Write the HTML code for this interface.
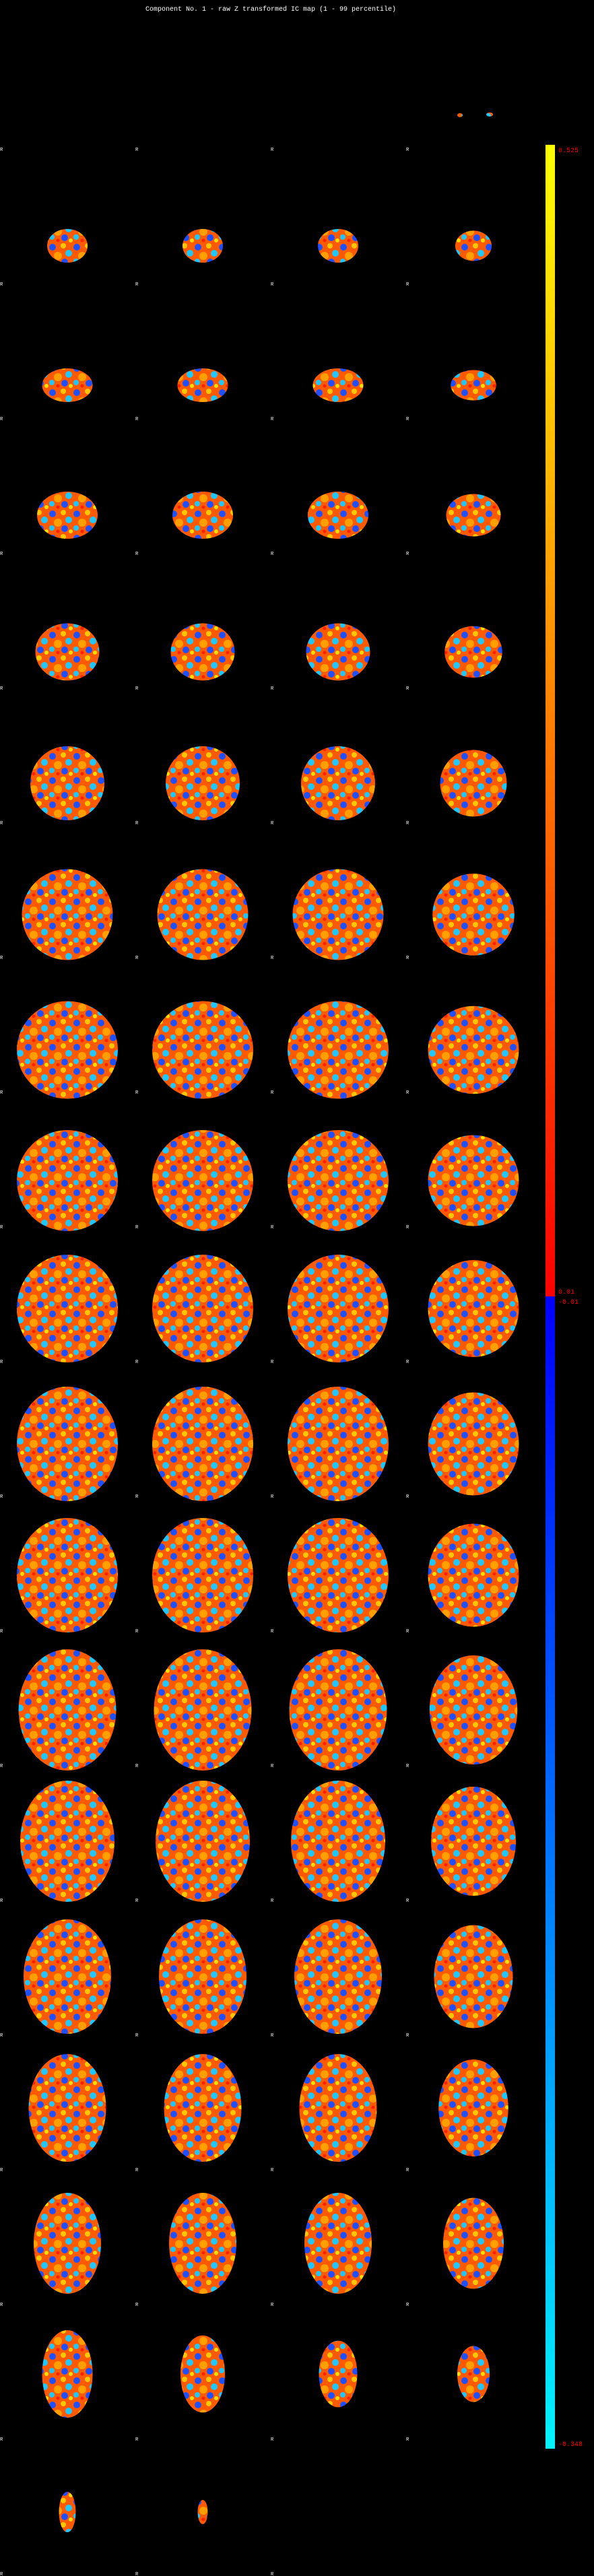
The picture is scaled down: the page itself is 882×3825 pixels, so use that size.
<!DOCTYPE html>
<html>
<head>
<meta charset="utf-8">
<style>
  html,body{margin:0;padding:0;background:#000;}
  body{width:882px;height:3825px;overflow:hidden;position:relative;}
  svg{position:absolute;left:0;top:0;}
</style>
</head>
<body>
<svg id="fig" width="882" height="3825" viewBox="0 0 882 3825" xmlns="http://www.w3.org/2000/svg">
  <defs>
    <pattern id="noise" width="36" height="36" patternUnits="userSpaceOnUse">
      <rect width="36" height="36" fill="#ff5a00"/>
      <circle cx="6" cy="7" r="5" fill="#1e50ff"/>
      <circle cx="22" cy="5" r="4" fill="#ffc800"/>
      <circle cx="30" cy="16" r="5" fill="#1ec8ff"/>
      <circle cx="14" cy="20" r="6" fill="#ffa000"/>
      <circle cx="5" cy="28" r="4" fill="#1ec8ff"/>
      <circle cx="24" cy="29" r="5" fill="#1e50ff"/>
      <circle cx="14" cy="33" r="2.5" fill="#ff2000"/>
      <circle cx="33" cy="33" r="3" fill="#ffe000"/>
    </pattern>
    <linearGradient id="posGrad" x1="0" y1="0" x2="0" y2="1">
      <stop offset="0" stop-color="#ffff00"/>
      <stop offset="0.45" stop-color="#ff8c00"/>
      <stop offset="1" stop-color="#ff0000"/>
    </linearGradient>
    <linearGradient id="negGrad" x1="0" y1="0" x2="0" y2="1">
      <stop offset="0" stop-color="#0000ff"/>
      <stop offset="1" stop-color="#00f4ff"/>
    </linearGradient>
  </defs>
  <text x="402" y="16" fill="#fff" font-family="Liberation Mono, monospace" font-size="10" text-anchor="middle">Component No. 1 - raw Z transformed IC map (1 - 99 percentile)</text>
  <g id="cells"></g>
  <g>
    <rect x="810" y="215" width="14" height="1710" fill="url(#posGrad)"/>
    <rect x="810" y="1925" width="14" height="1711" fill="url(#negGrad)"/>
    <text x="829" y="226" fill="#f00" font-family="Liberation Mono, monospace" font-size="10">0.525</text>
    <text x="829" y="1921" fill="#f00" font-family="Liberation Mono, monospace" font-size="10">0.01</text>
    <text x="829" y="1936" fill="#f00" font-family="Liberation Mono, monospace" font-size="10">-0.01</text>
    <text x="829" y="3632" fill="#f00" font-family="Liberation Mono, monospace" font-size="10">-0.348</text>
  </g>
</svg>
<script>
// per-row brain slice extents (px), rows 0..18
const rowWidths  = [0, 60, 75, 90, 95, 110, 135, 150, 150, 150, 150, 150, 145, 140, 130, 115, 100, 75, 25];
const rowHeights = [0, 50, 50, 70, 85, 110, 135, 145, 150, 160, 170, 170, 180, 180, 170, 160, 150, 130, 60];
const rowCenters = [0, 144, 151, 144, 147, 142, 137, 138, 132, 122, 123, 118, 118, 113, 114, 109, 110, 104, 109];
const colScale   = [1.0, 1.0, 1.0, 0.9];
const cellsPerRow = [4,4,4,4,4,4,4,4,4,4,4,4,4,4,4,4,4,4,3];
const slicesInLastRow = 2;

const NS = 'http://www.w3.org/2000/svg';
const g = document.getElementById('cells');
const colX = c => c * 201;
const rowTop = r => 21 + r * 200;

for (let r = 0; r < rowWidths.length; r++) {
  for (let c = 0; c < cellsPerRow[r]; c++) {
    const x0 = colX(c), y0 = rowTop(r);
    const t = document.createElementNS(NS, 'text');
    
    
    t.setAttribute('x', x0);
    t.setAttribute('y', y0 + 203);
    t.setAttribute('fill', '#fff');
    t.setAttribute('font-family', 'Liberation Mono, monospace');
    t.setAttribute('font-size', '7');
    t.textContent = 'R';
    g.appendChild(t);

    let s = (r === 17) ? (1 - 0.12 * c) : colScale[c];
    if (r === 18) s = c === 0 ? 1 : 0.6;
    if (r === 18 && c >= slicesInLastRow) continue;
    let w = rowWidths[r] * s, h = rowHeights[r] * s;
    if (r === 0) {
      if (c !== 3) continue;
      [[683, 171, 4], [727, 170, 5]].forEach(function(p) {
        const e = document.createElementNS(NS, 'ellipse');
        
        
        e.setAttribute('cx', p[0]); e.setAttribute('cy', p[1]);
        e.setAttribute('rx', p[2]); e.setAttribute('ry', 3);
        e.setAttribute('fill', 'url(#noise)');
        g.appendChild(e);
      });
      continue;
    }
    const cx = x0 + 100, cy = y0 + rowCenters[r];
    const e = document.createElementNS(NS, 'ellipse');
    
    
    e.setAttribute('cx', cx);
    e.setAttribute('cy', cy);
    e.setAttribute('rx', w / 2);
    e.setAttribute('ry', h / 2);
    e.setAttribute('fill', 'url(#noise)');
    g.appendChild(e);
  }
}
</script>
</body>
</html>
